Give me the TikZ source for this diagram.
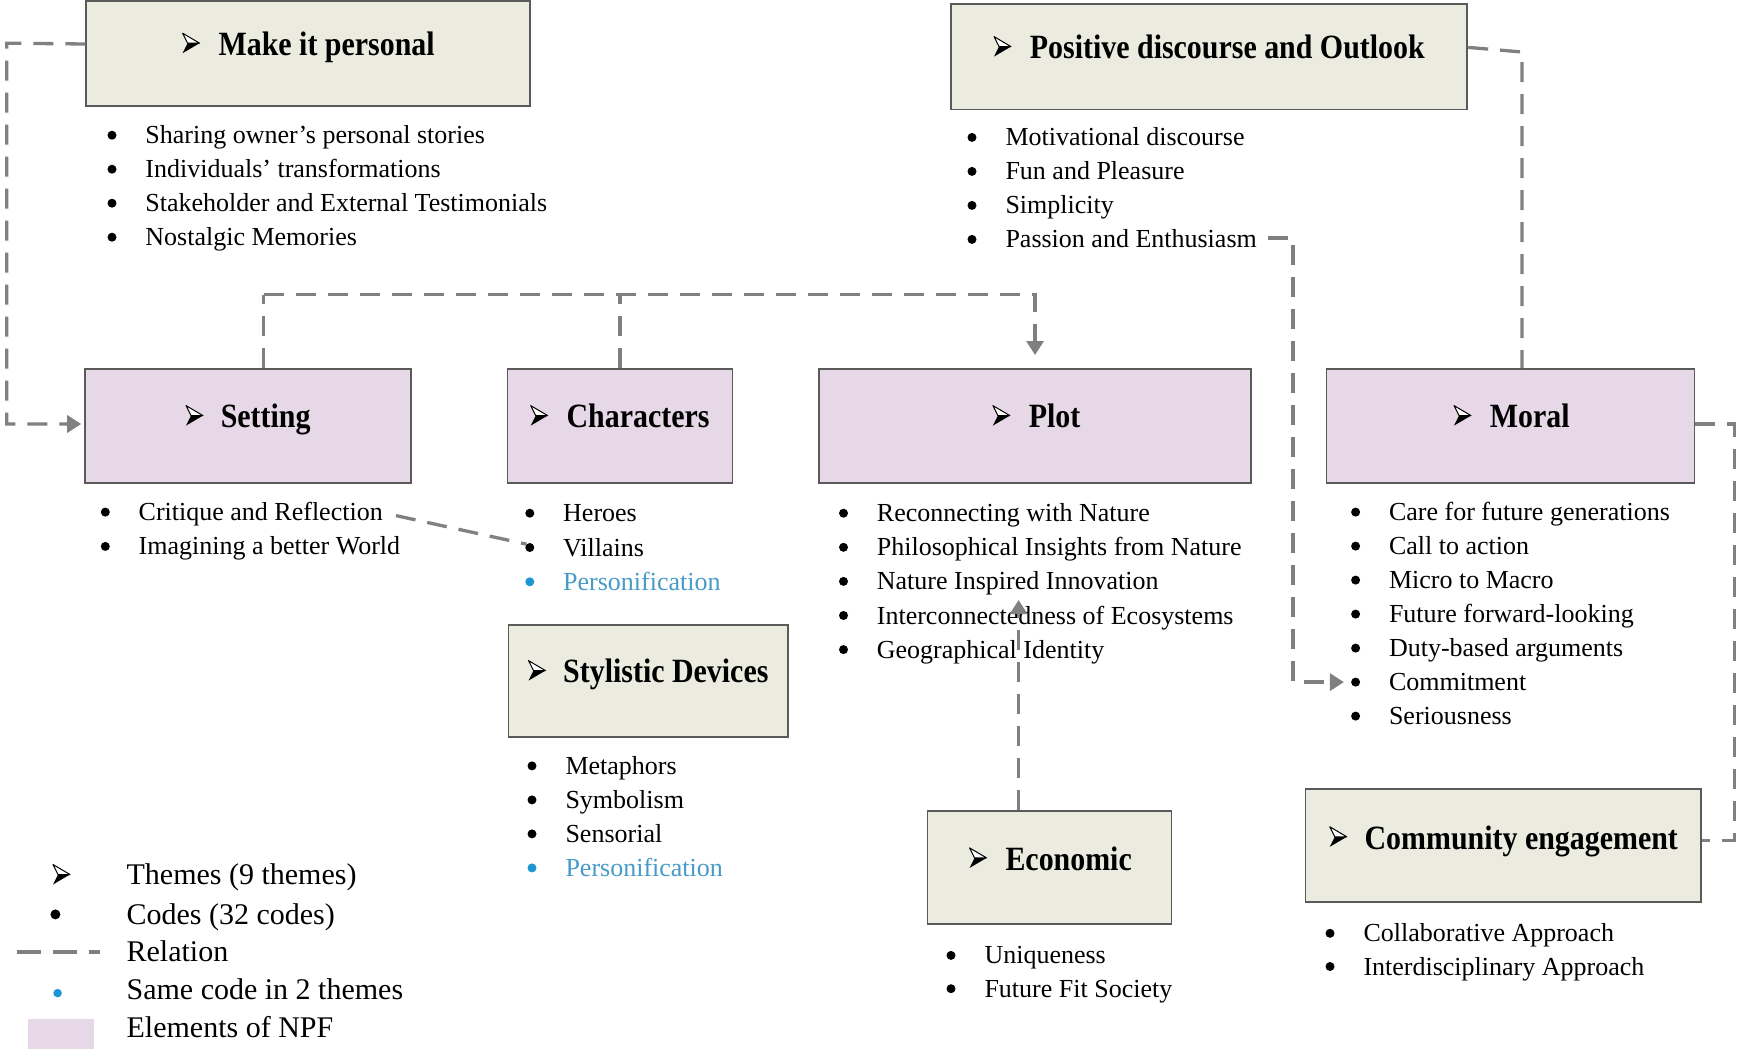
\documentclass[tikz,border=0pt]{standalone}
\usepackage{fontspec}
\usepackage{graphicx}
\setmainfont{Liberation Serif}
\usetikzlibrary{arrows.meta,calc}
\definecolor{boxg}{RGB}{235,236,223}
\definecolor{boxp}{RGB}{230,216,230}
\definecolor{edgec}{RGB}{90,90,90}
\definecolor{relc}{RGB}{128,128,128}
\definecolor{blut}{RGB}{70,155,200}
\definecolor{blud}{RGB}{30,150,210}
\newcommand\mkttl[1]{\scalebox{0.88}[1]{#1}}
\tikzset{
  relline/.style={draw=relc, line width=3.3pt, dash pattern=on 20pt off 12pt},
  reltip/.style={-{Triangle[length=14pt,width=17pt]}},
  theme/.style={draw=edgec, line width=1.8pt, fill=boxg, inner sep=0pt, anchor=north west},
  npf/.style={theme, fill=boxp},
  ttl/.style={anchor=west, inner sep=0pt, text height=23pt, text depth=0pt, font=\fontsize{34}{34}\selectfont\bfseries},
  item/.style={anchor=west, inner sep=0pt, text height=18pt, text depth=6pt, font=\fontsize{26}{30}\selectfont},
  legtext/.style={item, text height=21pt, text depth=7pt, font=\fontsize{30}{34}\selectfont},
  dot/.style={circle, fill=black, inner sep=0pt, minimum size=9pt},
  thm/.pic={
    \fill[black] (9,0) -- (-8,10) -- (-3,0) -- cycle;
    \filldraw[fill=white, draw=black, line width=1pt, line join=round] (9,0) -- (-8,-10) -- (-3,0) -- cycle;
  }
}
\newcommand\codelist[6]{%
  \foreach \t [count=\i] in {#6}{%
    \node[dot] (#1-b\i) at (#2,{#4+#5*(\i-1)}) {};
    \node[item] (#1-\i) at (#3,{#4+#5*(\i-1)+2.5}) {\t};
  }}
\begin{document}
\begin{tikzpicture}[x=1pt,y=-1pt]
\useasboundingbox (0,0) rectangle (1738,1049);
\fill[white] (0,0) rectangle (1738,1049);

% ---------- boxes ----------
\node[theme, minimum width=443.4pt, minimum height=105pt] (mip) at (85.3,0) {};
\node[theme, minimum width=516.4pt, minimum height=105.3pt] (pdo) at (950,3.3) {};
\node[npf, minimum width=325.9pt, minimum height=114.2pt] (set) at (84.2,368) {};
\node[npf, minimum width=225pt, minimum height=114.2pt] (cha) at (506.5,368) {};
\node[npf, minimum width=432.3pt, minimum height=114.2pt] (plo) at (818,368) {};
\node[npf, minimum width=368pt, minimum height=114.2pt] (mor) at (1325.6,368) {};
\node[theme, minimum width=279.4pt, minimum height=112pt] (sty) at (507.6,624) {};
\node[theme, minimum width=243.9pt, minimum height=113.1pt] (eco) at (926.6,810.2) {};
\node[theme, minimum width=395.7pt, minimum height=113.1pt] (com) at (1304.6,788) {};

% ---------- titles ----------
\pic at (190.6,43.2) {thm};   \node[ttl] (mip-t) at (218.4,44) {\mkttl{Make it personal}};
\pic at (1002,46.6) {thm};    \node[ttl] (pdo-t) at (1029.7,47.4) {\mkttl{Positive discourse and Outlook}};
\pic at (194,415.6) {thm};    \node[ttl] (set-t) at (220.6,416.4) {\mkttl{Setting}};
\pic at (538.7,415.6) {thm};  \node[ttl] (cha-t) at (566.4,416.4) {\mkttl{Characters}};
\pic at (1000.9,415.6) {thm}; \node[ttl] (plo-t) at (1028.6,416.4) {\mkttl{Plot}};
\pic at (1462,415.6) {thm};   \node[ttl] (mor-t) at (1489.7,416.4) {\mkttl{Moral}};
\pic at (536.5,670.6) {thm};  \node[ttl] (sty-t) at (563,671.4) {\mkttl{Stylistic Devices}};
\pic at (977.6,857.9) {thm};  \node[ttl] (eco-t) at (1005.3,858.7) {\mkttl{Economic}};
\pic at (1337.8,836.8) {thm}; \node[ttl] (com-t) at (1364.4,837.6) {\mkttl{Community engagement}};

% ---------- code lists ----------
\codelist{mip}{112}{145.2}{135.2}{34}{Sharing owner’s personal stories, Individuals’ transformations, Stakeholder and External Testimonials, Nostalgic Memories}
\codelist{pdo}{972}{1005.3}{137.4}{34}{Motivational discourse, Fun and Pleasure, Simplicity, Passion and Enthusiasm}
\codelist{set}{105.3}{138.5}{512.1}{34.3}{Critique and Reflection, Imagining a better World}
\codelist{cha}{529.8}{563}{513.2}{34.3}{Heroes, Villains}
\node[dot, fill=blud] (cha-b3) at (529.8,581.8) {};
\node[item, text=blut] (cha-3) at (563,584.3) {Personification};
\codelist{plo}{843.5}{876.7}{513.2}{34.1}{Reconnecting with Nature, Philosophical Insights from Nature, Nature Inspired Innovation, Interconnectedness of Ecosystems, Geographical Identity}
\codelist{mor}{1355.6}{1388.8}{512.1}{34}{Care for future generations, Call to action, Micro to Macro, Future forward-looking, Duty-based arguments, Commitment, Seriousness}
\codelist{sty}{532}{565.3}{765.9}{34}{Metaphors, Symbolism, Sensorial}
\node[dot, fill=blud] (sty-b4) at (532,867.9) {};
\node[item, text=blut] (sty-4) at (565.3,870.4) {Personification};
\codelist{eco}{951}{984.3}{955.4}{33.3}{Uniqueness, Future Fit Society}
\codelist{com}{1330}{1363.3}{933.3}{33.2}{Collaborative Approach, Interdisciplinary Approach}

% ---------- relations ----------
\coordinate (c1) at (6.7,43.2);
\draw[relline, reltip] (mip-t.west -| mip.west) -- (c1) |- ([xshift=-3pt,yshift=2pt]set.west);

\coordinate (h1) at (263.8,294.8);
\draw[relline] (h1 |- set.north) -- (h1);
\draw[relline, reltip] (h1) -| ([yshift=13pt]plo.north);
\draw[relline] (cha.north) -- (cha.north |- h1);

\coordinate (m1) at (1521.9,52);
\draw[relline] (pdo-t.west -| pdo.east) -- (m1) -- (m1 |- mor.north);

\coordinate (p1) at (1293,238);
\draw[relline, reltip] ([xshift=11pt]pdo-4.east |- p1) -- (p1) |- ([xshift=-7pt]mor-b6.west);

\coordinate (r1) at (1734.6,424);
\draw[relline] (mor.east |- r1) -- (r1) |- ([yshift=5pt]com.east);

\draw[relline] ([xshift=13pt,yshift=-1pt]set-1.east) -- (cha-b2.north west);

\coordinate (e1) at (1018.6,600);
\draw[relline, reltip] (e1 |- eco.north) -- (e1);

% ---------- legend ----------
\pic at (61,874.5) {thm};
\node[legtext] (lg1) at (126.4,877) {Themes (9 themes)};
\node[dot, minimum size=10pt] (lgd) at (55.4,914.4) {};
\node[legtext] (lg2) at (126.4,917) {Codes (32 codes)};
\coordinate (l1) at (16.6,952.1);
\coordinate (l2) at (99.8,952.1);
\draw[relc, line width=3.3pt, dash pattern=on 24pt off 12pt] (l1) -- (l2);
\node[legtext] (lg3) at (126.4,954.6) {Relation};
\node[dot, fill=blud, minimum size=8.5pt] (lgb) at (57.6,993.1) {};
\node[legtext] (lg4) at (126.4,992.3) {Same code in 2 themes};
\node[fill=boxp, inner sep=0pt, anchor=north west, minimum width=66.5pt, minimum height=32pt] (lsq) at (27.7,1018.6) {};
\node[legtext] (lg5) at (126.4,1030) {Elements of NPF};
\end{tikzpicture}
\end{document}
